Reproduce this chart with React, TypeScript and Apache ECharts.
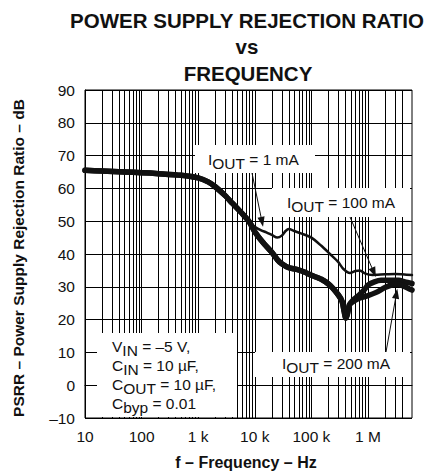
import React, { useEffect, useRef } from 'react';
import * as echarts from 'echarts';

const FONT = '"Liberation Sans", Arial, Helvetica, sans-serif';
const INK = '#111';

// ---- data (Hz, dB) ----
const freq1mA = [10, 20, 50, 100, 200, 500, 1000, 1500, 2000, 3000, 4000, 6000, 8000, 10000, 13000, 16000, 20000, 25000, 30000, 35000, 40000, 50000, 65000, 100000, 150000, 213000, 300000, 365000, 480000, 600000, 720000, 900000, 1200000, 2000000, 3000000, 4000000, 6000000];
const psrr1mA = [65.5, 65.3, 65.0, 64.8, 64.5, 64.0, 63.2, 62.0, 60.5, 57.8, 55.5, 52.3, 50.0, 48.3, 47.2, 46.6, 45.8, 45.0, 45.6, 47.0, 47.6, 47.0, 46.3, 45.0, 42.5, 40.0, 37.5, 35.5, 34.2, 34.8, 35.0, 34.0, 33.6, 33.8, 33.9, 33.8, 33.6];

const freq100mA = [10, 20, 50, 100, 200, 500, 1000, 1500, 2000, 3000, 4000, 6000, 8000, 10000, 14000, 20000, 25000, 30000, 40000, 55000, 75000, 100000, 150000, 213000, 300000, 350000, 380000, 405000, 430000, 470000, 550000, 700000, 850000, 1000000, 1300000, 1700000, 2500000, 3500000, 4500000, 6000000];
const psrr100mA = [65.5, 65.3, 65.0, 64.8, 64.5, 64.0, 63.2, 62.0, 60.5, 57.8, 55.5, 52.3, 49.8, 46.8, 43.5, 40.5, 38.3, 37.0, 35.8, 35.3, 34.5, 33.5, 32.3, 30.5, 27.5, 25.5, 22.5, 20.5, 21.5, 24.5, 26.0, 27.5, 29.0, 30.5, 31.5, 32.0, 32.0, 32.0, 31.5, 31.0];

const freq200mA = [10, 20, 50, 100, 200, 500, 1000, 1500, 2000, 3000, 4000, 6000, 8000, 10000, 14000, 20000, 25000, 30000, 40000, 55000, 75000, 100000, 150000, 213000, 300000, 350000, 380000, 405000, 430000, 470000, 550000, 700000, 1000000, 1400000, 2000000, 2800000, 3500000, 4500000, 6000000];
const psrr200mA = [65.5, 65.3, 65.0, 64.8, 64.5, 64.0, 63.2, 62.0, 60.5, 57.8, 55.5, 52.3, 49.8, 46.8, 43.5, 40.5, 38.3, 37.0, 35.8, 35.3, 34.5, 33.5, 32.3, 30.5, 27.5, 25.5, 22.5, 20.5, 21.5, 24.5, 25.5, 26.5, 27.3, 28.3, 29.8, 30.7, 30.8, 30.0, 29.0];

// axis
const xMin = 10;
const xMax = 6000000;
const xTickLabels = ['10', '100', '1 k', '10 k', '100 k', '1 M']; // 10^1 .. 10^6
const yMin = -10;
const yMax = 90;
const yStep = 10;
const gridDecades = [10, 100, 1000, 10000, 100000, 1000000];
const gridMultipliers = [1, 2, 3, 4, 5, 6, 7, 8, 9];
const gridLimit = 4500000;

// annotation texts
const titleLines = ['POWER SUPPLY REJECTION RATIO', 'vs', 'FREQUENCY'];
const xTitle = 'f \u2013 Frequency \u2013 Hz';
const yTitle = 'PSRR \u2013 Power Supply Rejection Ratio \u2013 dB';
const conditions: [string, string, string][] = [
  ['V', 'IN', ' = \u20135 V,'],
  ['C', 'IN', ' = 10 \u00b5F,'],
  ['C', 'OUT', ' = 10 \u00b5F,'],
  ['C', 'byp', ' = 0.01'],
];
const curveLabels = ['1 mA', '100 mA', '200 mA'];
// arrow tips in data coordinates [Hz, dB]
const arrowTips: [number, number][] = [
  [14000, 48.3],
  [1380000, 33.0],
  [3300000, 29.4],
];

const measureCtx = document.createElement('canvas').getContext('2d');
function tw(t: string, size: number, weight = 'normal') {
  if (!measureCtx) return t.length * size * 0.55;
  measureCtx.font = `${weight} ${size}px ${FONT}`;
  return measureCtx.measureText(t).width;
}

function txt(x: number, y: number, text: string, size: number, opts: any = {}) {
  const align = opts.align || 'left';
  return {
    type: 'text',
    x,
    y,
    z: opts.z ?? 20,
    rotation: opts.rotation || 0,
    silent: true,
    style: {
      text,
      fontSize: size,
      fontFamily: FONT,
      fontWeight: opts.weight || 'normal',
      fill: INK,
      align,
      textAlign: align,
      verticalAlign: 'middle',
      textVerticalAlign: 'middle',
    },
  };
}

function subRun(x: number, y: number, main: string, sub: string, rest: string, size: number) {
  const els: any[] = [];
  let cx = x;
  els.push(txt(cx, y, main, size));
  cx += tw(main, size);
  els.push(txt(cx, y + 4, sub, size));
  cx += tw(sub, size);
  els.push(txt(cx, y, rest, size));
  return els;
}

function rect(x: number, y: number, w: number, h: number) {
  return { type: 'rect', z: 3, silent: true, shape: { x, y, width: w, height: h }, style: { fill: '#fff' } };
}

function arrow(tail: number[], tip: number[]) {
  const dx = tip[0] - tail[0];
  const dy = tip[1] - tail[1];
  const len = Math.hypot(dx, dy);
  const ux = dx / len, uy = dy / len;
  const nx = -uy, ny = ux;
  const L = 10, W = 3.6;
  const bx = tip[0] - ux * L, by = tip[1] - uy * L;
  return [
    { type: 'line', z: 15, silent: true, shape: { x1: tail[0], y1: tail[1], x2: bx + ux * 2, y2: by + uy * 2 }, style: { stroke: INK, lineWidth: 1 } },
    { type: 'polygon', z: 15, silent: true, shape: { points: [[tip[0], tip[1]], [bx + nx * W, by + ny * W], [bx - nx * W, by - ny * W]] }, style: { fill: INK } },
  ];
}

const pairs = (f: number[], v: number[]) => f.map((x, i) => [x, v[i]]);

export default function App() {
  const ref = useRef<HTMLDivElement>(null);
  useEffect(() => {
    document.body.style.margin = '0';
    const chart = echarts.init(ref.current!, null, { renderer: 'svg' });
    const gridFreqs: number[] = [];
    gridDecades.forEach((d) => gridMultipliers.forEach((m) => {
      const f = d * m;
      if (f > xMin && f < gridLimit) gridFreqs.push(f);
    }));
    const curve = (name: string, f: number[], v: number[], width: number) => ({
      type: 'line',
      name,
      data: pairs(f, v),
      showSymbol: false,
      symbol: 'none',
      smooth: 0.25,
      silent: true,
      z: 10,
      lineStyle: { color: INK, width, cap: 'round', join: 'round' },
    });
    chart.setOption({
      animation: false,
      backgroundColor: '#fff',
      grid: { left: 85, right: 32, top: 90, bottom: 56, show: true, borderColor: '#000', borderWidth: 1, backgroundColor: 'transparent' },
      xAxis: {
        type: 'log',
        logBase: 10,
        min: xMin,
        max: xMax,
        axisLine: { show: true, lineStyle: { color: '#000', width: 1 } },
        axisTick: { show: false },
        splitLine: { show: false },
        axisLabel: {
          color: INK,
          fontSize: 15.5,
          fontFamily: FONT,
          margin: 10,
          showMaxLabel: false,
          formatter: (v: number) => {
            const e = Math.log10(v);
            const r = Math.round(e);
            if (Math.abs(e - r) > 1e-6) return '';
            return xTickLabels[r - 1] ?? '';
          },
        },
      },
      yAxis: {
        type: 'value',
        min: yMin,
        max: yMax,
        interval: yStep,
        axisLine: { show: true, lineStyle: { color: '#000', width: 1 } },
        axisTick: { show: false },
        splitLine: { show: true, lineStyle: { color: '#000', width: 1 } },
        axisLabel: {
          color: INK,
          fontSize: 15.5,
          fontFamily: FONT,
          margin: 10,
          formatter: (v: number) => (v < 0 ? '\u2013' + Math.abs(v) : String(v)),
        },
      },
      series: [
        {
          type: 'line',
          data: [],
          silent: true,
          z: 1,
          markLine: {
            silent: true,
            z: 1,
            symbol: ['none', 'none'],
            label: { show: false },
            emphasis: { disabled: true },
            lineStyle: { color: '#000', width: 1, type: 'solid' },
            data: gridFreqs.map((f) => ({ xAxis: f })),
          },
        },
        curve('100 mA', freq100mA, psrr100mA, 5.5),
        curve('200 mA', freq200mA, psrr200mA, 5.5),
        curve('1 mA', freq1mA, psrr1mA, 2.5),
      ],
    });

    const px = (p: [number, number]) => chart.convertToPixel({ gridIndex: 0 }, p) as number[];
    const els: any[] = [];
    // titles
    els.push(txt(247, 20, titleLines[0], 20.5, { weight: 'bold', align: 'center' }));
    els.push(txt(247, 46, titleLines[1], 20.5, { weight: 'bold', align: 'center' }));
    els.push(txt(248, 73, titleLines[2], 20.5, { weight: 'bold', align: 'center' }));
    els.push(txt(246, 462, xTitle, 16, { weight: 'bold', align: 'center' }));
    els.push(txt(18, 258, yTitle, 15.5, { weight: 'bold', align: 'center', rotation: Math.PI / 2 }));
    // label boxes
    els.push(rect(195, 145, 120, 28));
    els.push(...subRun(208, 159, 'I', 'OUT', ' = ' + curveLabels[0], 15.5));
    els.push(rect(272, 188, 138, 29));
    els.push(...subRun(287, 202, 'I', 'OUT', ' = ' + curveLabels[1], 15.5));
    els.push(rect(255, 352, 155, 25));
    els.push(...subRun(282, 363, 'I', 'OUT', ' = ' + curveLabels[2], 15.5));
    els.push(rect(97, 333, 140, 84));
    conditions.forEach((c, i) => els.push(...subRun(112, 346 + i * 19, c[0], c[1], c[2], 15.5)));
    // arrows
    els.push(...arrow([252, 173], px(arrowTips[0])));
    els.push(...arrow([350, 217], px(arrowTips[1])));
    els.push(...arrow([386, 352], px(arrowTips[2])));
    chart.setOption({ graphic: els });
    return () => chart.dispose();
  }, []);
  return <div ref={ref} style={{ position: 'absolute', left: 0, top: 0, width: 444, height: 474 }} />;
}
